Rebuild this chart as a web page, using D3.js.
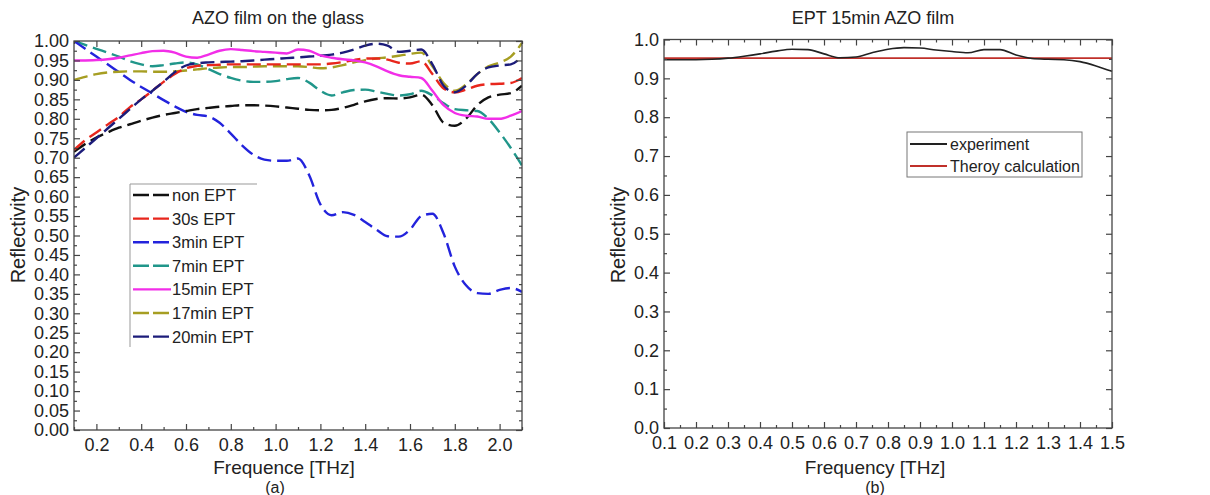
<!DOCTYPE html>
<html>
<head>
<meta charset="utf-8">
<script src="https://cdn.jsdelivr.net/npm/d3@7"></script>
<style>
  body { margin: 0; background: #fff; }
  svg text { font-family: "Liberation Sans", Arial, sans-serif; fill: #222; }
</style>
</head>
<body>
<svg id="chart" width="1210" height="495"></svg>
<script>
// ---- panel (a) data: reflectivity vs frequency for each EPT time
const freqA = [0.10,0.15,0.20,0.25,0.30,0.35,0.40,0.45,0.50,0.55,0.60,0.65,0.70,0.75,0.80,0.85,0.90,0.95,1.00,1.05,
               1.10,1.15,1.20,1.25,1.30,1.35,1.40,1.45,1.50,1.55,1.60,1.65,1.70,1.75,1.80,1.85,1.90,1.95,2.00,2.05,2.10];
const nonEpt = [0.715,0.735,0.752,0.765,0.777,0.786,0.795,0.803,0.810,0.815,0.820,0.825,0.828,0.831,0.833,0.835,0.835,0.834,0.832,0.829,
                0.826,0.823,0.822,0.823,0.828,0.836,0.845,0.851,0.853,0.852,0.855,0.862,0.835,0.790,0.782,0.800,0.835,0.855,0.862,0.866,0.885];
const ept30s = [0.720,0.745,0.765,0.785,0.805,0.830,0.850,0.872,0.895,0.915,0.930,0.936,0.938,0.939,0.940,0.940,0.940,0.940,0.940,0.940,
                0.940,0.940,0.940,0.942,0.946,0.951,0.955,0.955,0.952,0.944,0.942,0.948,0.915,0.878,0.868,0.875,0.885,0.889,0.890,0.892,0.905];
const ept3min = [1.000,0.980,0.960,0.940,0.920,0.900,0.882,0.865,0.848,0.832,0.818,0.810,0.806,0.790,0.762,0.732,0.708,0.695,0.692,0.692,
                 0.698,0.655,0.580,0.552,0.560,0.553,0.535,0.515,0.498,0.497,0.515,0.550,0.556,0.505,0.420,0.372,0.352,0.350,0.360,0.365,0.355];
const ept7min = [1.000,0.990,0.980,0.970,0.960,0.948,0.940,0.935,0.938,0.942,0.945,0.940,0.928,0.915,0.905,0.898,0.895,0.895,0.897,0.902,
                 0.905,0.893,0.872,0.860,0.868,0.874,0.875,0.870,0.864,0.860,0.863,0.872,0.860,0.840,0.825,0.822,0.820,0.800,0.765,0.725,0.680];
const ept15min = [0.950,0.950,0.951,0.953,0.957,0.963,0.969,0.974,0.975,0.970,0.960,0.957,0.965,0.975,0.979,0.977,0.974,0.972,0.970,0.968,
                  0.978,0.975,0.963,0.957,0.953,0.950,0.945,0.935,0.922,0.912,0.908,0.905,0.872,0.835,0.815,0.808,0.806,0.800,0.800,0.808,0.820];
const ept17min = [0.900,0.908,0.915,0.919,0.921,0.922,0.922,0.921,0.921,0.922,0.924,0.927,0.930,0.932,0.933,0.933,0.934,0.935,0.935,0.935,
                  0.935,0.933,0.930,0.932,0.938,0.945,0.951,0.955,0.958,0.962,0.967,0.970,0.935,0.892,0.872,0.888,0.915,0.935,0.945,0.960,0.995];
const ept20min = [0.700,0.725,0.750,0.775,0.800,0.825,0.850,0.872,0.895,0.920,0.937,0.943,0.945,0.946,0.947,0.948,0.950,0.952,0.954,0.956,
                  0.958,0.960,0.962,0.965,0.970,0.978,0.988,0.993,0.988,0.972,0.975,0.978,0.940,0.885,0.868,0.885,0.915,0.932,0.937,0.940,0.960];
const seriesNamesA = ["non EPT","30s EPT","3min EPT","7min EPT","15min EPT","17min EPT","20min EPT"];
const seriesColorsA = ["#111111","#e8261c","#2323dc","#20968a","#f22ee8","#a69e22","#1c1c7a"];
const xTicksA = [0.2,0.4,0.6,0.8,1.0,1.2,1.4,1.6,1.8,2.0];
const yTicksA = [0,0.05,0.10,0.15,0.20,0.25,0.30,0.35,0.40,0.45,0.50,0.55,0.60,0.65,0.70,0.75,0.80,0.85,0.90,0.95,1.00];

// ---- panel (b) data: 15min EPT film, experiment vs theory
const freqB = [0.10,0.15,0.20,0.25,0.30,0.35,0.40,0.45,0.50,0.55,0.60,0.65,0.70,0.75,0.80,0.85,0.90,0.95,1.00,1.05,
               1.10,1.15,1.20,1.25,1.30,1.35,1.40,1.45,1.50];
const experimentB = [0.948,0.948,0.948,0.949,0.952,0.957,0.963,0.970,0.975,0.974,0.963,0.953,0.955,0.966,0.975,0.979,0.978,0.973,0.969,0.966,
                     0.974,0.974,0.960,0.951,0.949,0.948,0.943,0.932,0.918];
const theoryFreqB = [0.1,1.5];
const theoryB = [0.952,0.952];
const seriesNamesB = ["experiment","Theroy calculation"];
const xTicksB = [0.1,0.2,0.3,0.4,0.5,0.6,0.7,0.8,0.9,1.0,1.1,1.2,1.3,1.4,1.5];
const yTicksB = [0,0.1,0.2,0.3,0.4,0.5,0.6,0.7,0.8,0.9,1.0];

const svg = d3.select("#chart");

// draws frame + inward ticks on four sides
function drawFrame(g, x, y, xMajor, xMinor, yMajor, yMinor, xFmt, yFmt) {
    let [x0, x1] = x.range();
    let [y0, y1] = y.range();   // y0 bottom, y1 top
    let major = 6, minor = 3;

    g.append("g").attr("transform", "translate(0," + y0 + ")")
        .call(d3.axisBottom(x).tickValues(xMajor).tickSizeInner(-major).tickSizeOuter(0).tickPadding(8).tickFormat(xFmt));
    g.append("g").attr("transform", "translate(0," + y0 + ")")
        .call(d3.axisBottom(x).tickValues(xMinor).tickSizeInner(-minor).tickSizeOuter(0).tickFormat(""));
    g.append("g").attr("transform", "translate(0," + y1 + ")")
        .call(d3.axisTop(x).tickValues(xMajor).tickSizeInner(-major).tickSizeOuter(0).tickFormat(""));
    g.append("g").attr("transform", "translate(0," + y1 + ")")
        .call(d3.axisTop(x).tickValues(xMinor).tickSizeInner(-minor).tickSizeOuter(0).tickFormat(""));

    g.append("g").attr("transform", "translate(" + x0 + ",0)")
        .call(d3.axisLeft(y).tickValues(yMajor).tickSizeInner(-major).tickSizeOuter(0).tickPadding(5).tickFormat(yFmt));
    g.append("g").attr("transform", "translate(" + x0 + ",0)")
        .call(d3.axisLeft(y).tickValues(yMinor).tickSizeInner(-minor).tickSizeOuter(0).tickFormat(""));
    g.append("g").attr("transform", "translate(" + x1 + ",0)")
        .call(d3.axisRight(y).tickValues(yMajor).tickSizeInner(-major).tickSizeOuter(0).tickFormat(""));
    g.append("g").attr("transform", "translate(" + x1 + ",0)")
        .call(d3.axisRight(y).tickValues(yMinor).tickSizeInner(-minor).tickSizeOuter(0).tickFormat(""));

    g.selectAll(".domain").remove();
    g.selectAll(".tick line").attr("stroke", "#444").attr("stroke-width", 1.2);
    g.selectAll(".tick text").style("font-size", "18px").attr("fill", "#1a1a1a");

    g.append("rect")
        .attr("x", x0).attr("y", y1)
        .attr("width", x1 - x0).attr("height", y0 - y1)
        .attr("fill", "none").attr("stroke", "#444").attr("stroke-width", 1.3);
}

// ================= panel (a)
let xA = d3.scaleLinear().domain([0.1, 2.1]).range([74, 522]);
let yA = d3.scaleLinear().domain([0, 1]).range([430, 41]);
let gA = svg.append("g");

gA.append("clipPath").attr("id", "clipA")
  .append("rect").attr("x", 74).attr("y", 41).attr("width", 448).attr("height", 389);

let allA = [nonEpt, ept30s, ept3min, ept7min, ept15min, ept17min, ept20min];
let lineA = d3.line().x(d => xA(d[0])).y(d => yA(d[1])).curve(d3.curveMonotoneX);

// draw order so the top bundle looks like the original
let order = [3, 2, 0, 5, 1, 6, 4];
order.forEach(i => {
    gA.append("path")
      .datum(freqA.map((f, k) => [f, allA[i][k]]))
      .attr("clip-path", "url(#clipA)")
      .attr("d", lineA)
      .attr("fill", "none")
      .attr("stroke", seriesColorsA[i])
      .attr("stroke-width", 2.4)
      .attr("stroke-dasharray", i == 4 ? null : "14,6");
});

let xMinorA = [0.1,0.3,0.5,0.7,0.9,1.1,1.3,1.5,1.7,1.9,2.1];
let yMinorA = yTicksA.slice(0, -1).map(v => v + 0.025);
drawFrame(gA, xA, yA, xTicksA, xMinorA, yTicksA, yMinorA, d3.format(".1f"), d3.format(".2f"));

// legend (a)
let legA = gA.append("g");
legA.append("line").attr("x1", 130).attr("x2", 257).attr("y1", 184).attr("y2", 184).attr("stroke", "#999");
legA.append("line").attr("x1", 130).attr("x2", 130).attr("y1", 184).attr("y2", 347).attr("stroke", "#999");
seriesNamesA.forEach((name, i) => {
    let yy = 195 + i * 23.6;
    legA.append("line")
        .attr("x1", 133).attr("x2", 171).attr("y1", yy).attr("y2", yy)
        .attr("stroke", seriesColorsA[i]).attr("stroke-width", 2.4)
        .attr("stroke-dasharray", i == 4 ? null : "16,4");
    legA.append("text").attr("x", 172).attr("y", yy + 6).style("font-size", "16.5px").text(name);
});

gA.append("text").attr("x", 278).attr("y", 24).attr("text-anchor", "middle").style("font-size", "18px").text("AZO film on the glass");
gA.append("text").attr("x", 284).attr("y", 474).attr("text-anchor", "middle").style("font-size", "19px").text("Frequence [THz]");
gA.append("text").attr("x", 275).attr("y", 493).attr("text-anchor", "middle").style("font-size", "16px").text("(a)");
gA.append("text").attr("transform", "translate(25,235) rotate(-90)").attr("text-anchor", "middle").style("font-size", "20px").text("Reflectivity");

// ================= panel (b)
let xB = d3.scaleLinear().domain([0.1, 1.5]).range([664, 1112]);
let yB = d3.scaleLinear().domain([0, 1]).range([428, 39.5]);
let gB = svg.append("g");

let lineB = d3.line().x(d => xB(d[0])).y(d => yB(d[1])).curve(d3.curveMonotoneX);

gB.append("path")
  .datum(theoryFreqB.map((f, k) => [f, theoryB[k]]))
  .attr("d", lineB).attr("fill", "none").attr("stroke", "#c0302a").attr("stroke-width", 1.6);
gB.append("path")
  .datum(freqB.map((f, k) => [f, experimentB[k]]))
  .attr("d", lineB).attr("fill", "none").attr("stroke", "#222").attr("stroke-width", 1.6);

let xMinorB = xTicksB.slice(0, -1).map(v => v + 0.05);
let yMinorB = yTicksB.slice(0, -1).map(v => v + 0.05);
drawFrame(gB, xB, yB, xTicksB, xMinorB, yTicksB, yMinorB, d3.format(".1f"), d3.format(".1f"));

// legend (b)
let legB = gB.append("g");
legB.append("rect").attr("x", 907).attr("y", 132).attr("width", 175).attr("height", 45)
    .attr("fill", "#fff").attr("stroke", "#777");
["#222", "#c0302a"].forEach((c, i) => {
    let yy = 144 + i * 22;
    legB.append("line").attr("x1", 910).attr("x2", 947).attr("y1", yy).attr("y2", yy)
        .attr("stroke", c).attr("stroke-width", 1.8);
    legB.append("text").attr("x", 950).attr("y", yy + 6).style("font-size", "16px").text(seriesNamesB[i]);
});

gB.append("text").attr("x", 873).attr("y", 24).attr("text-anchor", "middle").style("font-size", "18px").text("EPT 15min AZO film");
gB.append("text").attr("x", 875).attr("y", 474).attr("text-anchor", "middle").style("font-size", "19px").text("Frequency [THz]");
gB.append("text").attr("x", 875).attr("y", 493).attr("text-anchor", "middle").style("font-size", "16px").text("(b)");
gB.append("text").attr("transform", "translate(625,235) rotate(-90)").attr("text-anchor", "middle").style("font-size", "20px").text("Reflectivity");
</script>
</body>
</html>
